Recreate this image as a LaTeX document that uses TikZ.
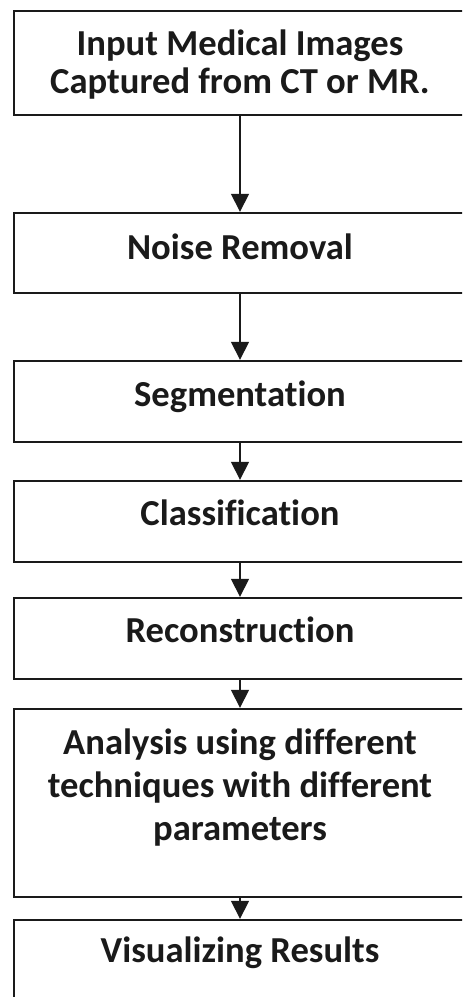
\documentclass[tikz,border=0pt]{standalone}
\usepackage{fontspec}
\setmainfont{Carlito}[Ligatures=NoCommon]
\usetikzlibrary{arrows.meta}
\definecolor{ink}{HTML}{1A1A1A}
\tikzset{
  stage/.style={draw=ink, line width=1.2pt, minimum width=226pt, inner xsep=4pt, inner ysep=0pt,
    align=center, anchor=base, text=ink, font=\fontsize{18.3}{19}\selectfont\bfseries},
  flow/.style={-{Triangle[length=9pt,width=9pt]}, draw=ink, line width=0.8pt}
}
\begin{document}
\begin{tikzpicture}[x=0.5pt, y=-0.5pt]
  \useasboundingbox (0,0) rectangle (462,997);
  \clip (0,0) rectangle (462,997);
  \fill[white] (0,0) rectangle (462,997);
  % pipeline steps, each set at the baseline of its last line
  \node[stage, text height=41pt, text depth=11pt] (input) at (240,93)
    {Input Medical Images\\Captured from CT or MR.};
  \node[stage, text height=23pt, text depth=17pt] (noise) at (240,259) {Noise Removal};
  \node[stage, text height=22.5pt, text depth=18pt] (segment) at (240,406) {Segmentation};
  \node[stage, text height=22pt, text depth=18.5pt] (classify) at (240,525) {Classification};
  \node[stage, text height=22pt, text depth=18.5pt] (rebuild) at (240,642) {Reconstruction};
  \node[stage, text height=65.5pt, text depth=28.5pt, font=\fontsize{18.3}{21.5}\selectfont\bfseries] (analysis) at (240,840)
    {Analysis using different\\techniques with different\\parameters};
  \node[stage, text height=21pt, text depth=22pt] (visual) at (240,962) {Visualizing Results};
  \foreach \a/\b in {input/noise,noise/segment,segment/classify,classify/rebuild,rebuild/analysis,analysis/visual}
    \draw[flow] (\a) -- (\b);
\end{tikzpicture}
\end{document}
